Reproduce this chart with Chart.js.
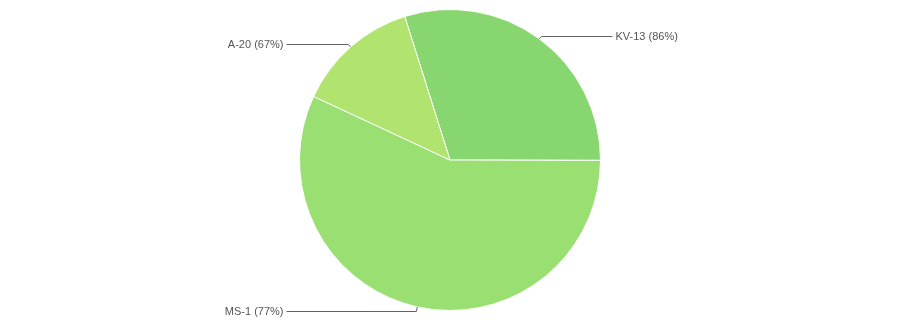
<!DOCTYPE html>
<html>
<head>
<meta charset="utf-8">
<script src="https://cdn.jsdelivr.net/npm/chart.js@4"></script>
<style>
  html, body { margin: 0; padding: 0; background: #fff; }
  #wrap { width: 900px; height: 320px; }
</style>
</head>
<body>
<div id="wrap"><canvas id="pie_chart"></canvas></div>
<script>
// slice data (clockwise from the KV-13 edge)
const labels = ['KV-13 (86%)', 'MS-1 (77%)', 'A-20 (67%)'];
const values = [29.9, 56.9, 13.2];
const colors = ['#88d66f', '#9adf72', '#b0e46e'];

// draws the leader lines with the slice labels beside the pie
const leaderLabels = {
  id: 'leaderLabels',
  afterDatasetsDraw(chart) {
    const ctx = chart.ctx;
    const meta = chart.getDatasetMeta(0);
    ctx.save();
    ctx.font = '11px Arial, "Liberation Sans", sans-serif';
    ctx.textBaseline = 'middle';
    meta.data.forEach(function(arc, i) {
      const mid = (arc.startAngle + arc.endAngle) / 2;
      const r = arc.outerRadius;
      const ax = arc.x + Math.cos(mid) * r;
      const ay = arc.y + Math.sin(mid) * r;
      const ex = arc.x + Math.cos(mid) * (r + 4);
      const ey = arc.y + Math.sin(mid) * (r + 4);
      const right = Math.cos(mid) >= 0;
      const lineEnd = right ? arc.x + r + 12 : arc.x - r - 13;
      const textX = right ? lineEnd + 3 : lineEnd - 3;

      ctx.strokeStyle = '#636363';
      ctx.lineWidth = 1;
      ctx.beginPath();
      ctx.moveTo(ax, ay);
      ctx.lineTo(ex, Math.round(ey) + 0.5);
      ctx.lineTo(lineEnd, Math.round(ey) + 0.5);
      ctx.stroke();

      ctx.fillStyle = '#555';
      ctx.textAlign = right ? 'left' : 'right';
      ctx.fillText(labels[i], textX, Math.round(ey) + 1);
    });
    ctx.restore();
  }
};

new Chart(document.getElementById('pie_chart'), {
  type: 'pie',
  data: {
    labels: labels,
    datasets: [{
      data: values,
      backgroundColor: colors,
      borderColor: '#ffffff',
      borderWidth: 1
    }]
  },
  options: {
    responsive: true,
    maintainAspectRatio: false,
    animation: false,
    rotation: -17.5,
    layout: { padding: 9 },
    plugins: {
      legend: { display: false },
      tooltip: { enabled: false }
    }
  },
  plugins: [leaderLabels]
});
</script>
</body>
</html>
